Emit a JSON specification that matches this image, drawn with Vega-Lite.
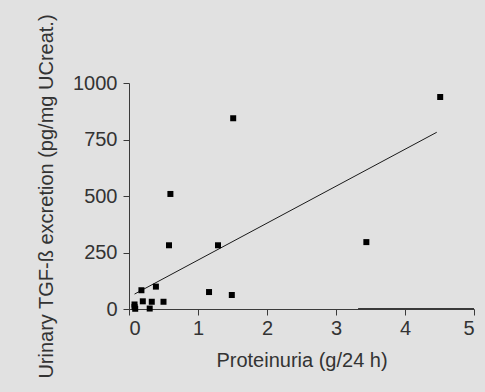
{
  "$schema": "https://vega.github.io/schema/vega-lite/v6.json",
  "width": 345,
  "height": 226,
  "autosize": {"type": "none"},
  "padding": {"left": 129, "top": 83, "right": 11, "bottom": 83},
  "background": "#e1e1e1",
  "config": {
    "view": {"stroke": null},
    "font": "Liberation Sans",
    "axis": {
      "grid": false,
      "domainColor": "#3a3a3a",
      "tickColor": "#3a3a3a",
      "tickSize": 6,
      "labelFontSize": 20,
      "labelColor": "#333333",
      "titleFontSize": 20,
      "titleFontWeight": "normal",
      "titleColor": "#333333",
      "labelFont": "Liberation Sans",
      "titleFont": "Liberation Sans"
    }
  },
  "datasets": {
    "points": [
      {"px": 4.51, "py": 938},
      {"px": 1.51, "py": 844},
      {"px": 0.60, "py": 509},
      {"px": 0.58, "py": 282},
      {"px": 1.29, "py": 282},
      {"px": 3.44, "py": 296},
      {"px": 0.39, "py": 99},
      {"px": 0.18, "py": 83},
      {"px": 1.16, "py": 75},
      {"px": 1.49, "py": 62},
      {"px": 0.20, "py": 34},
      {"px": 0.33, "py": 32},
      {"px": 0.50, "py": 32},
      {"px": 0.30, "py": 2},
      {"px": 0.08, "py": 20},
      {"px": 0.08, "py": 9},
      {"px": 0.09, "py": 1}
    ],
    "fit": [
      {"px": 0.08, "py": 66},
      {"px": 4.46, "py": 782}
    ],
    "seg": [
      {"px": 3.32, "px2": 5, "py": 0}
    ]
  },
  "encoding": {
    "x": {
      "field": "px",
      "type": "quantitative",
      "scale": {"domain": [0, 5], "nice": false, "zero": false},
      "axis": {"values": [0, 1, 2, 3, 4, 5], "format": "d", "title": "Proteinuria (g/24 h)", "labelPadding": 3, "titlePadding": 12}
    },
    "y": {
      "field": "py",
      "type": "quantitative",
      "scale": {"domain": [0, 1000], "nice": false, "zero": false},
      "axis": {"values": [0, 250, 500, 750, 1000], "format": "d", "title": "Urinary TGF-ß excretion (pg/mg UCreat.)", "labelPadding": 6, "titlePadding": 16}
    }
  },
  "layer": [
    {
      "data": {"name": "seg"},
      "mark": {"type": "rule", "color": "#3a3a3a", "strokeWidth": 2.2},
      "encoding": {
        "x2": {"field": "px2"}
      }
    },
    {
      "data": {"name": "fit"},
      "mark": {"type": "line", "color": "#1a1a1a", "strokeWidth": 1},
      "encoding": {}
    },
    {
      "data": {"name": "points"},
      "mark": {"type": "square", "filled": true, "color": "#000000", "size": 36, "opacity": 1},
      "encoding": {}
    }
  ]
}
